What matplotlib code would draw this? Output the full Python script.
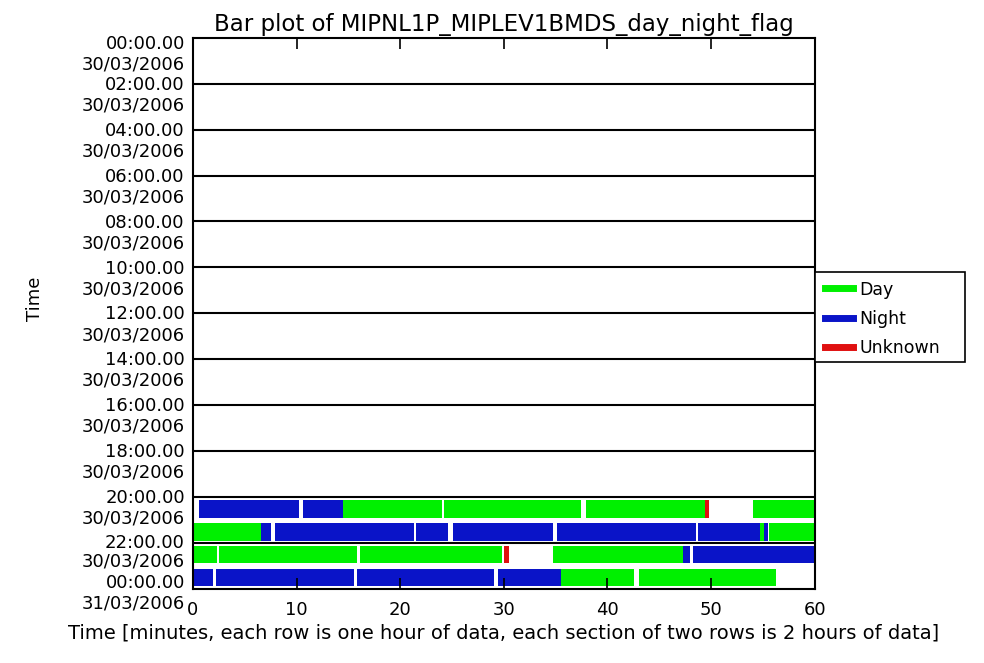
import matplotlib
matplotlib.use("Agg")
import matplotlib.pyplot as plt
import matplotlib.transforms as mtransforms
from matplotlib.lines import Line2D
from matplotlib.patches import Rectangle

# 每段: 所在小时行, 起始分钟, 结束分钟, 标志 (D=Day, N=Night, U=Unknown)
seg_row = [20, 20, 20, 20, 20, 20, 20,
           21, 21, 21, 21, 21, 21, 21, 21, 21, 21,
           22, 22, 22, 22, 22, 22, 22, 22,
           23, 23, 23, 23, 23, 23]
seg_start = [0.6, 10.6, 14.5, 24.2, 37.9, 49.4, 54.0,
             0.0, 6.6, 7.9, 21.5, 25.1, 35.1, 48.7, 54.7, 55.1, 55.6,
             0.0, 2.5, 16.1, 30.0, 34.7, 47.1, 47.3, 48.3,
             0.0, 2.2, 15.8, 29.4, 35.5, 43.0]
seg_end = [10.2, 14.5, 24.0, 37.4, 49.4, 49.8, 60.0,
           6.6, 7.5, 21.3, 24.6, 34.7, 48.5, 54.7, 55.1, 55.5, 60.0,
           2.3, 15.8, 29.8, 30.5, 47.1, 47.3, 48.0, 60.0,
           1.9, 15.5, 29.1, 35.5, 42.6, 56.3]
seg_flag = ["N", "N", "D", "D", "D", "U", "D",
            "D", "N", "N", "N", "N", "N", "N", "D", "N", "D",
            "D", "D", "D", "U", "D", "D", "N", "N",
            "N", "N", "N", "N", "D", "D"]

flag_names = {"D": "Day", "N": "Night", "U": "Unknown"}
flag_colors = {"D": "#00f000", "N": "#0a14c8", "U": "#e01010"}

# y 轴标签: 每两小时一个
tick_hours = list(range(0, 26, 2))
tick_times = ["00:00.00", "02:00.00", "04:00.00", "06:00.00", "08:00.00",
              "10:00.00", "12:00.00", "14:00.00", "16:00.00", "18:00.00",
              "20:00.00", "22:00.00", "00:00.00"]
tick_dates = ["30/03/2006"] * 12 + ["31/03/2006"]

x_ticks = [0, 10, 20, 30, 40, 50, 60]

fig = plt.figure(figsize=(9.84, 6.63), dpi=100)
ax = fig.add_axes([0.196, 0.112, 0.632, 0.831])

for r, s, e, f in zip(seg_row, seg_start, seg_end, seg_flag):
    ax.broken_barh([(s, e - s)], (r + 0.12, 0.78), facecolors=flag_colors[f], edgecolor="none")

for h in tick_hours[1:-1]:
    ax.axhline(h, color="black", lw=1.5)

ax.set_xlim(0, 60)
ax.set_ylim(24, 0)
for sp in ax.spines.values():
    sp.set_linewidth(1.5)

ax.set_xticks(x_ticks)
ax.set_xticklabels([str(t) for t in x_ticks], fontsize=13)
ax.tick_params(axis="x", direction="in", top=True, length=8, width=1.2, pad=9)
ax.set_yticks([])

# y 轴的两行标签 (时间 + 日期)
trans = mtransforms.blended_transform_factory(ax.transAxes, ax.transData)
n_ticks = len(tick_hours)
for i, (h, t, d) in enumerate(zip(tick_hours, tick_times, tick_dates)):
    ty, dy = h + 0.05, h + 0.95
    if i == 0:
        ty, dy = 0.25, 1.15
    elif i == n_ticks - 2:
        ty, dy = h + 0.0, h + 0.82
    elif i == n_ticks - 1:
        ty, dy = 23.75, 24.65
    ax.text(-0.013, ty, t, transform=trans, ha="right", va="center", fontsize=13, clip_on=False)
    ax.text(-0.013, dy, d, transform=trans, ha="right", va="center", fontsize=13, clip_on=False)

ax.set_title("Bar plot of MIPNL1P_MIPLEV1BMDS_day_night_flag", fontsize=16.5, pad=5)
ax.set_xlabel("Time [minutes, each row is one hour of data, each section of two rows is 2 hours of data]",
              fontsize=14, labelpad=3)
fig.text(0.036, 0.55, "Time", rotation=90, ha="center", va="center", fontsize=13)

# 图例 (手动画框, 宽度与原图一致)
ax.add_patch(Rectangle((1.0, 0.412), 0.241, 0.162, transform=ax.transAxes, clip_on=False,
                       facecolor="white", edgecolor="black", lw=1.2, zorder=5))
handles = [Line2D([0], [0], color=flag_colors[k], lw=5) for k in ["D", "N", "U"]]
labels = [flag_names[k] for k in ["D", "N", "U"]]
leg = ax.legend(handles, labels, loc="upper left", bbox_to_anchor=(1.005, 0.572),
                fontsize=12.5, frameon=False, handlelength=1.6, handletextpad=0.4,
                borderaxespad=0, labelspacing=0.65)
leg.set_zorder(6)

fig.savefig("out.png", dpi=100)
